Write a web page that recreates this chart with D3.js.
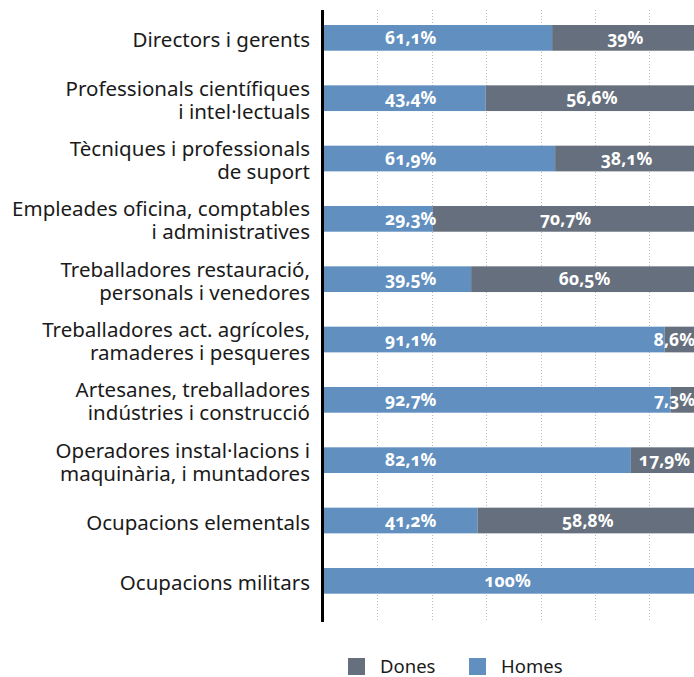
<!DOCTYPE html>
<html>
<head>
<meta charset="utf-8">
<script src="https://cdn.jsdelivr.net/npm/d3@7"></script>
<style>
  body { margin: 0; background: #fff; }
  svg { display: block; font-family: "Noto Sans", sans-serif; font-variant-numeric: oldstyle-nums; }
</style>
</head>
<body>
<div id="chart"></div>
<script>
// categories, one array per line of the label
const categories = [
  ["Directors i gerents"],
  ["Professionals científiques", "i intel·lectuals"],
  ["Tècniques i professionals", "de suport"],
  ["Empleades oficina, comptables", "i administratives"],
  ["Treballadores restauració,", "personals i venedores"],
  ["Treballadores act. agrícoles,", "ramaderes i pesqueres"],
  ["Artesanes, treballadores", "indústries i construcció"],
  ["Operadores instal·lacions i", "maquinària, i muntadores"],
  ["Ocupacions elementals"],
  ["Ocupacions militars"]
]
const homes = [61.1, 43.4, 61.9, 29.3, 39.5, 91.1, 92.7, 82.1, 41.2, 100]
const dones = [39, 56.6, 38.1, 70.7, 60.5, 8.6, 7.3, 17.9, 58.8, 0]
const gridTicks = [14.5, 29, 43.5, 58, 72.5, 87]
const legendItems = ["Dones", "Homes"]

const width = 694
const height = 677
const blue = '#6190c0'
const gray = '#666f7d'

const svg = d3.select('#chart')
  .append('svg')
  .attr('width', width)
  .attr('height', height)

const x = d3.scaleLinear().domain([0, 100]).range([323, 698])
const y = d3.scaleBand()
  .domain(d3.range(categories.length))
  .range([7.7, 611])
  .paddingInner(0.574)
  .paddingOuter(0.287)

// dotted grid
svg.append('g')
  .selectAll('line')
  .data(gridTicks)
  .join('line')
  .attr('x1', d => Math.round(x(d)) + 0.5)
  .attr('x2', d => Math.round(x(d)) + 0.5)
  .attr('y1', 10)
  .attr('y2', 621)
  .attr('stroke', '#bdbdbd')
  .attr('stroke-width', 1)
  .attr('stroke-dasharray', '1,2')

const rows = categories.map((c, i) => ({ i, lines: c, h: homes[i], d: dones[i] }))

// bars
const row = svg.append('g')
  .selectAll('g')
  .data(rows)
  .join('g')
  .attr('transform', d => `translate(0,${y(d.i)})`)

row.append('rect')
  .attr('x', x(0))
  .attr('width', d => x(d.h) - x(0))
  .attr('height', y.bandwidth())
  .attr('fill', blue)

row.filter(d => d.d > 0).append('rect')
  .attr('x', d => x(d.h))
  .attr('width', d => x(d.h + d.d) - x(d.h))
  .attr('height', y.bandwidth())
  .attr('fill', gray)

const fmt = v => String(v).replace('.', ',') + '%'

// homes labels
row.append('text')
  .attr('x', d => d.h >= 100 ? (x(0) + x(d.h)) / 2 - 3 : x(0) + 62)
  .attr('y', y.bandwidth() / 2)
  .attr('dy', '0.36em')
  .attr('text-anchor', d => d.h >= 100 ? 'middle' : 'start')
  .attr('fill', '#fff')
  .style('font-size', '17.5px')
  .style('font-weight', 'bold')
  .text(d => fmt(d.h))

// dones labels
row.filter(d => d.d > 0).append('text')
  .attr('y', y.bandwidth() / 2)
  .attr('dy', '0.36em')
  .attr('text-anchor', 'middle')
  .attr('fill', '#fff')
  .style('font-size', '17.5px')
  .style('font-weight', 'bold')
  .text(d => fmt(d.d))
  .attr('x', function (d) {
    const w = this.getComputedTextLength()
    const c = (x(d.h) + x(d.h + d.d)) / 2
    return Math.min(c, 695 - w / 2)
  })

// category labels
const lab = svg.append('g')
  .selectAll('text')
  .data(rows)
  .join('text')
  .attr('text-anchor', 'end')
  .attr('fill', '#1a1a1a')
  .style('font-size', '20.5px')

lab.selectAll('tspan')
  .data(d => d.lines.map((t, k) => ({ t, k, n: d.lines.length, i: d.i })))
  .join('tspan')
  .attr('x', 310)
  .attr('y', d => y(d.i) + y.bandwidth() / 2 + 9 + (d.k - (d.n - 1) / 2) * 23)
  .text(d => d.t)

// axis line
svg.append('line')
  .attr('x1', 322.5).attr('x2', 322.5)
  .attr('y1', 10).attr('y2', 622)
  .attr('stroke', '#000')
  .attr('stroke-width', 3)

// legend
const legend = svg.append('g')
  .selectAll('g')
  .data(legendItems)
  .join('g')
  .attr('transform', (d, i) => `translate(${348 + i * 121},658)`)

legend.append('rect')
  .attr('width', 17)
  .attr('height', 17)
  .attr('fill', d => d === 'Dones' ? gray : blue)

legend.append('text')
  .attr('x', 32)
  .attr('y', 15)
  .attr('fill', '#1a1a1a')
  .style('font-size', '18.5px')
  .text(d => d)
</script>
</body>
</html>
